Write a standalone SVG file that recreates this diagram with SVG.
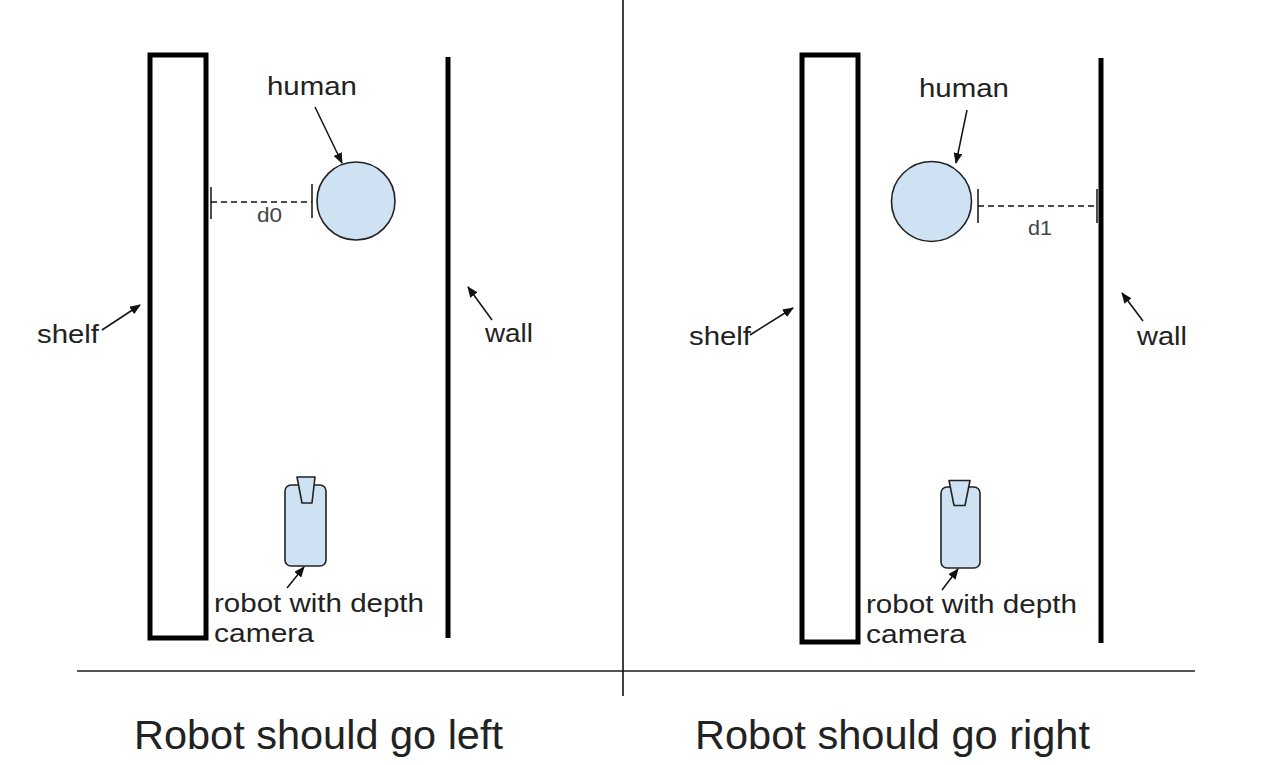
<svg xmlns="http://www.w3.org/2000/svg" width="1276" height="765" viewBox="0 0 1276 765">
<defs>
<style>
.lbl{font-family:"Liberation Sans",Arial,sans-serif;font-size:25px;fill:#222}
.cap{font-family:"Liberation Sans",Arial,sans-serif;font-size:40px;fill:#222}
.dl{font-family:"Liberation Sans",Arial,sans-serif;font-size:20px;fill:#444}
.shelf{fill:none;stroke:#000;stroke-width:5}
.wall{stroke:#000;stroke-width:5}
.human{fill:#cfe2f3;stroke:#222;stroke-width:1.6}
.robot{fill:#cfe2f3;stroke:#222;stroke-width:1.6;stroke-linejoin:round}
.arr{stroke:#111;stroke-width:1.5;fill:none;marker-end:url(#ah)}
.dash{stroke:#111;stroke-width:1.5;stroke-dasharray:6 4;fill:none}
.tick{stroke:#111;stroke-width:1.5}
</style>
<marker id="ah" markerUnits="userSpaceOnUse" markerWidth="11" markerHeight="9" refX="10" refY="4.5" orient="auto">
<path d="M0,0 L11,4.5 L0,9 z" fill="#111"/>
</marker>
</defs>
<rect width="1276" height="765" fill="#fff"/>

<g id="dividers">
<line x1="77" y1="671" x2="1195" y2="671" stroke="#555" stroke-width="2"/>
<line x1="623" y1="0" x2="623" y2="696" stroke="#111" stroke-width="1.6"/>
</g>

<g id="shelf-left"><rect class="shelf" x="150" y="55" width="56" height="583"/></g>
<g id="wall-left"><line class="wall" x1="448" y1="57" x2="448" y2="638"/></g>
<g id="human-left"><circle class="human" cx="356" cy="201" r="39"/></g>
<g id="robot-left">
<rect class="robot" x="285" y="485" width="41" height="81" rx="6"/>
<path class="robot" d="M297,477 L315,477 L312,503 L302,503 z"/>
</g>

<g id="shelf-right"><rect class="shelf" x="802" y="55" width="56" height="587"/></g>
<g id="wall-right"><line class="wall" x1="1101" y1="58" x2="1101" y2="643"/></g>
<g id="human-right"><circle class="human" cx="931.5" cy="201.5" r="40"/></g>
<g id="robot-right">
<rect class="robot" x="941" y="487" width="39" height="81" rx="6"/>
<path class="robot" d="M949,480.5 L970,480.5 L965,505.5 L954,505.5 z"/>
</g>

<g id="connectors">
<line class="arr" x1="315" y1="107" x2="342" y2="163"/>
<line class="arr" x1="102" y1="330" x2="140" y2="305"/>
<line class="arr" x1="492" y1="320" x2="468" y2="287"/>
<line class="arr" x1="287" y1="588" x2="304" y2="567"/>
<line class="dash" x1="211" y1="202" x2="312" y2="202"/>
<line class="tick" x1="211" y1="187" x2="211" y2="219"/>
<line class="tick" x1="312" y1="184" x2="312" y2="218"/>

<line class="arr" x1="967" y1="110" x2="956" y2="163"/>
<line class="arr" x1="750" y1="335" x2="793" y2="308"/>
<line class="arr" x1="1143" y1="321" x2="1122" y2="293"/>
<line class="arr" x1="942" y1="590" x2="958" y2="569"/>
<line class="dash" x1="978" y1="206" x2="1097" y2="206"/>
<line class="tick" x1="978" y1="189" x2="978" y2="223"/>
<line class="tick" x1="1097" y1="189" x2="1097" y2="223"/>
</g>

<g id="labels">
<text class="lbl" x="267" y="95" textLength="90" lengthAdjust="spacingAndGlyphs">human</text>
<text class="lbl" x="37" y="343" textLength="62" lengthAdjust="spacingAndGlyphs">shelf</text>
<text class="lbl" x="485" y="342" textLength="48" lengthAdjust="spacingAndGlyphs">wall</text>
<text class="lbl" x="214" y="612" textLength="210" lengthAdjust="spacingAndGlyphs">robot with depth</text>
<text class="lbl" x="214" y="642" textLength="100" lengthAdjust="spacingAndGlyphs">camera</text>
<text class="dl" x="257" y="222" textLength="25" lengthAdjust="spacingAndGlyphs">d0</text>
<text class="cap" x="134" y="749" textLength="369" lengthAdjust="spacingAndGlyphs">Robot should go left</text>

<text class="lbl" x="919" y="97" textLength="90" lengthAdjust="spacingAndGlyphs">human</text>
<text class="lbl" x="689" y="345" textLength="62" lengthAdjust="spacingAndGlyphs">shelf</text>
<text class="lbl" x="1137" y="345" textLength="50" lengthAdjust="spacingAndGlyphs">wall</text>
<text class="lbl" x="866" y="613" textLength="211" lengthAdjust="spacingAndGlyphs">robot with depth</text>
<text class="lbl" x="866" y="643" textLength="100" lengthAdjust="spacingAndGlyphs">camera</text>
<text class="dl" x="1028" y="235" textLength="24" lengthAdjust="spacingAndGlyphs">d1</text>
<text class="cap" x="695" y="749" textLength="395" lengthAdjust="spacingAndGlyphs">Robot should go right</text>
</g>
</svg>
